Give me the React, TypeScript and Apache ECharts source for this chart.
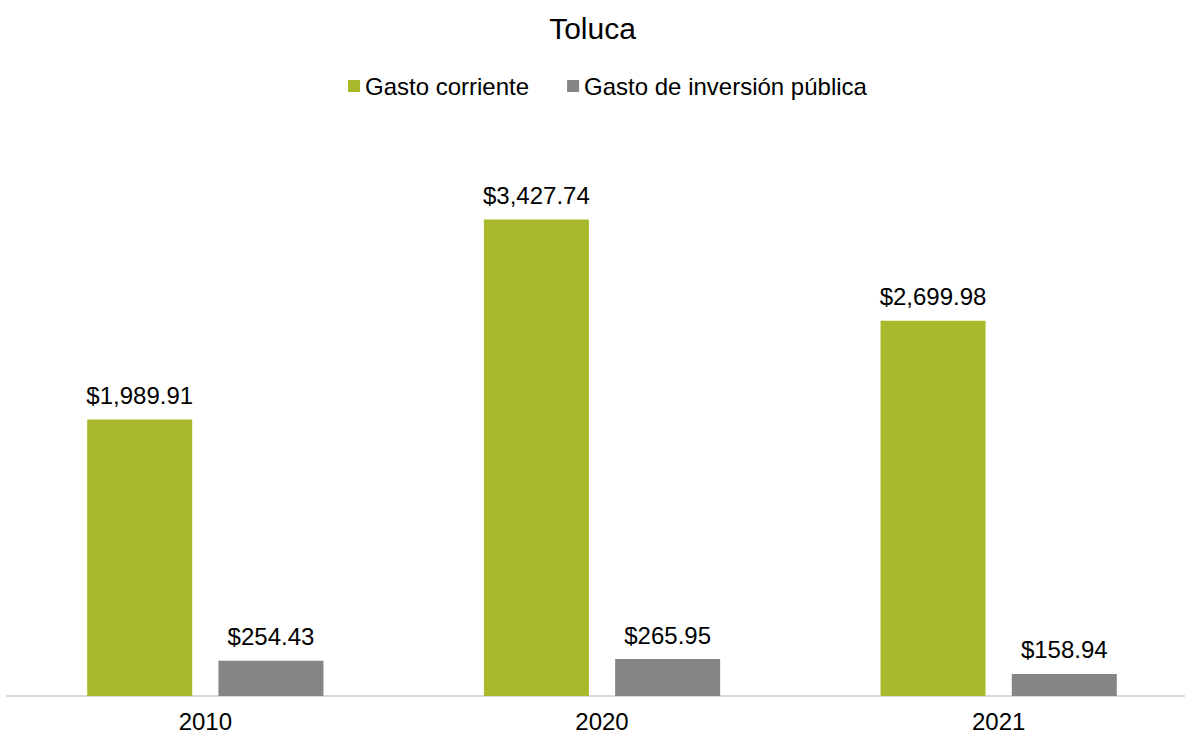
import React, { useEffect, useRef } from "react";
import * as echarts from "echarts";

const categories = ["2010", "2020", "2021"];
const gastoCorriente = [1989.91, 3427.74, 2699.98];
const gastoInversion = [254.43, 265.95, 158.94];
const seriesNames = ["Gasto corriente", "Gasto de inversión pública"];
const titleText = "Toluca";

const fmt = (v: number) =>
  "$" + v.toLocaleString("en-US", { minimumFractionDigits: 2, maximumFractionDigits: 2 });

export default function App() {
  const ref = useRef<HTMLDivElement>(null);
  useEffect(() => {
    if (!ref.current) return;
    const chart = echarts.init(ref.current, null, { renderer: "svg" });
    const font = "Liberation Sans, Arial, sans-serif";
    const labelCfg = {
      show: true,
      position: "top" as const,
      distance: 12,
      fontFamily: font,
      fontSize: 24,
      color: "#000",
      formatter: (p: any) => fmt(p.value),
    };
    chart.setOption({
      animation: false,
      backgroundColor: "#fff",
      title: {
        text: titleText,
        left: "center",
        top: 8,
        textStyle: { fontFamily: font, fontSize: 30, fontWeight: "normal", color: "#000" },
      },
      legend: {
        top: 69,
        left: 343,
        itemWidth: 12,
        itemHeight: 12,
        itemGap: 38,
        icon: "rect",
        textStyle: { fontFamily: font, fontSize: 24, color: "#000" },
        data: seriesNames,
      },
      grid: {
        left: 7,
        width: 1190,
        top: 140,
        bottom: 40,
        containLabel: false,
        outerBoundsMode: "none",
      },
      xAxis: {
        type: "category",
        data: categories,
        axisLine: { lineStyle: { color: "#d9d9d9", width: 2 } },
        axisTick: { show: false },
        axisLabel: { fontFamily: font, fontSize: 24, color: "#000", margin: 13 },
      },
      yAxis: {
        type: "value",
        min: 0,
        max: 4000,
        show: false,
        splitLine: { show: false },
      },
      series: [
        {
          name: seriesNames[0],
          type: "bar",
          data: gastoCorriente,
          barWidth: 105,
          barGap: "25%",
          itemStyle: { color: "#a8b92b" },
          label: labelCfg,
        },
        {
          name: seriesNames[1],
          type: "bar",
          data: gastoInversion,
          barWidth: 105,
          barGap: "25%",
          itemStyle: { color: "#858585" },
          label: labelCfg,
        },
      ],
    });
    return () => chart.dispose();
  }, []);
  return <div ref={ref} style={{ width: 1185, height: 736, position: "absolute", left: 0, top: 0 }} />;
}
